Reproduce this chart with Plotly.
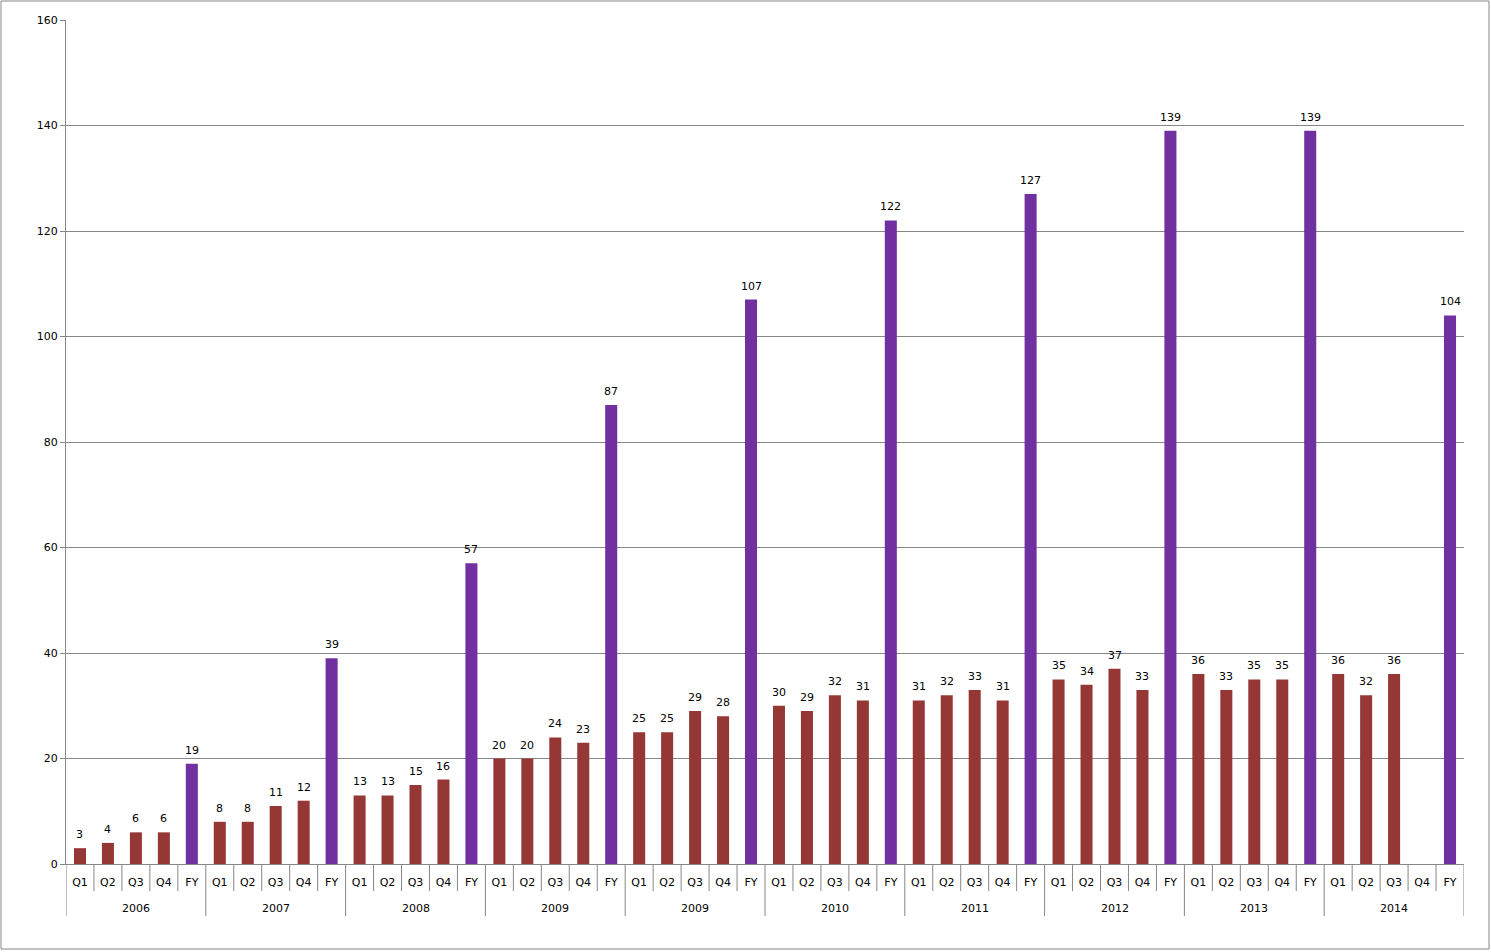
import plotly.graph_objects as go

years = ["2006", "2007", "2008", "2009", "2009", "2010", "2011", "2012", "2013", "2014"]
periods = ["Q1", "Q2", "Q3", "Q4", "FY"]

quarter_values = [
    [3, 4, 6, 6],
    [8, 8, 11, 12],
    [13, 13, 15, 16],
    [20, 20, 24, 23],
    [25, 25, 29, 28],
    [30, 29, 32, 31],
    [31, 32, 33, 31],
    [35, 34, 37, 33],
    [36, 33, 35, 35],
    [36, 32, 36, None],
]
fy_values = [19, 39, 57, 87, 107, 122, 127, 139, 139, 104]

n_per = len(periods)
xs, labels, yq, yfy = [], [], [], []
for i, yr in enumerate(years):
    for j, p in enumerate(periods):
        xs.append(i * n_per + j)
        labels.append(p)
        if p == "FY":
            yq.append(None)
            yfy.append(fy_values[i])
        else:
            yq.append(quarter_values[i][j])
            yfy.append(None)

font = dict(family="DejaVu Sans", size=11, color="black")
grey = "#868686"
plot_h = 952 - 20 - 88

fig = go.Figure()
fig.add_trace(go.Bar(
    x=xs, y=yq, name="Quarter",
    marker=dict(color="#953735", line=dict(width=0)),
))
fig.add_trace(go.Bar(
    x=xs, y=yfy, name="FY",
    marker=dict(color="#7030A0", line=dict(width=0)),
))

shapes = [dict(type="rect", xref="paper", yref="paper",
               x0=(1 - 66) / 1398, x1=(1489 - 66) / 1398,
               y0=(952 - 949 - 88) / plot_h, y1=(952 - 1 - 88) / plot_h,
               line=dict(color=grey, width=1), layer="below")]
n_total = len(xs)
for k in range(n_total + 1):
    is_div = (k % n_per == 0)
    depth = 52 if is_div else 27
    shapes.append(dict(type="line", xref="x", yref="paper",
                       x0=k - 0.5, x1=k - 0.5, y0=0, y1=-depth / plot_h,
                       line=dict(color=grey, width=1)))

annotations = []
for i, yr in enumerate(years):
    annotations.append(dict(x=i * n_per + (n_per - 1) / 2, y=0, xref="x", yref="paper",
                            text=yr, showarrow=False, yanchor="middle",
                            yshift=-44, font=font))
for x, a, b in zip(xs, yq, yfy):
    v = a if a is not None else b
    if v is None:
        continue
    annotations.append(dict(x=x, y=v, xref="x", yref="y", text=str(v),
                            showarrow=False, yanchor="bottom", yshift=5, font=font))

fig.update_layout(
    width=1491, height=952,
    margin=dict(l=66, r=27, t=20, b=88),
    paper_bgcolor="white", plot_bgcolor="white",
    barmode="overlay", bargap=0.57,
    showlegend=False,
    font=font,
    shapes=shapes, annotations=annotations,
)
fig.update_xaxes(
    type="linear", range=[-0.5, n_total - 0.5],
    tickmode="array", tickvals=xs, ticktext=labels,
    showline=True, linecolor=grey, linewidth=1,
    ticks="", showgrid=False, zeroline=False, tickfont=font,
    ticklabelstandoff=8,
)
fig.update_yaxes(
    range=[0, 160], dtick=20,
    showline=True, linecolor=grey, linewidth=1,
    ticks="outside", ticklen=5, tickcolor=grey,
    showgrid=True, gridcolor=grey, gridwidth=1,
    zeroline=False, tickfont=font,
)

fig.write_html("out.html", config={"displayModeBar": False},
               post_script="document.body.style.margin='0';")
